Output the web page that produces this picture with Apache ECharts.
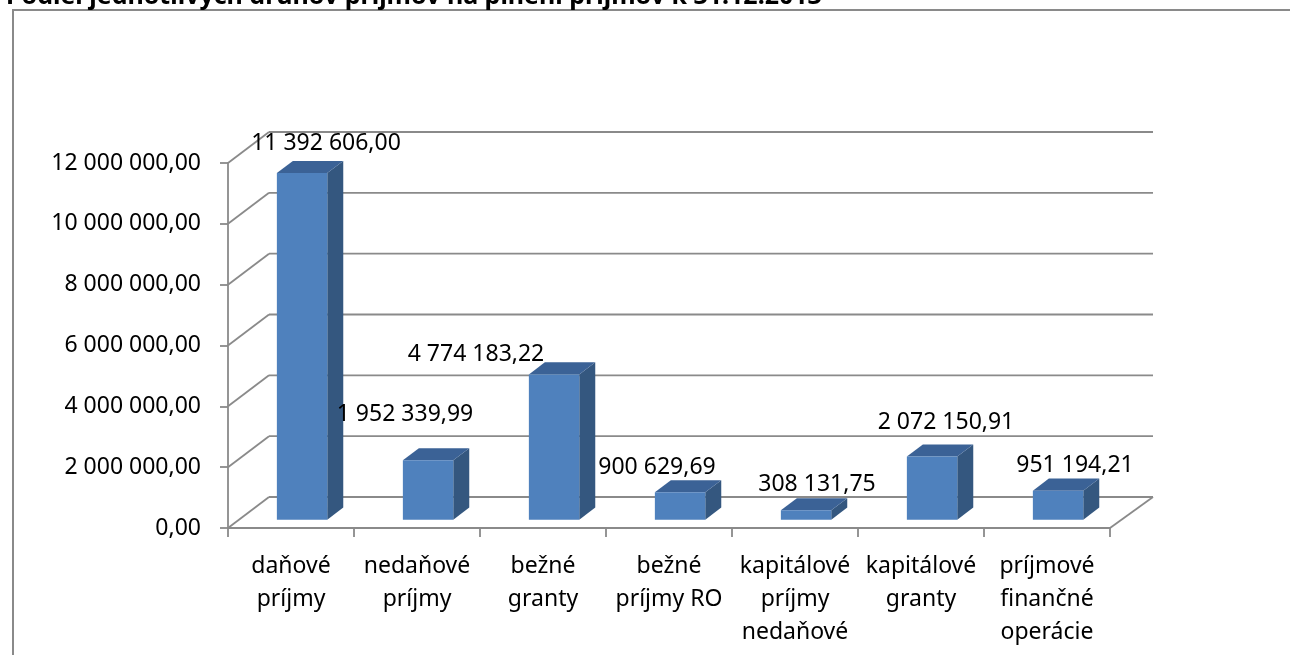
<!DOCTYPE html>
<html>
<head>
<meta charset="utf-8">
<script src="https://cdn.jsdelivr.net/npm/echarts@6/dist/echarts.min.js"></script>
<style>
  html, body { margin: 0; padding: 0; background: #fff; }
  #main { width: 1290px; height: 655px; }
</style>
</head>
<body>
<div id="main"></div>
<script>
// kategórie a hodnoty
var categories = [
  "daňové\npríjmy",
  "nedaňové\npríjmy",
  "bežné\ngranty",
  "bežné\npríjmy RO",
  "kapitálové\npríjmy\nnedaňové",
  "kapitálové\ngranty",
  "príjmové\nfinančné\noperácie"
];
var values = [11392606.0, 1952339.99, 4774183.22, 900629.69, 308131.75, 2072150.91, 951194.21];
var yTicks = [0, 2000000, 4000000, 6000000, 8000000, 10000000, 12000000];
var titleText = "Podiel jednotlivých druhov príjmov na plnení príjmov k 31.12.2013";

// posun popiskov (excel ich v 3D kladie nepravidelne)
var labelShift = [[35, -38], [-12, -54], [-67, -28], [-12, -33], [22, -34], [25, -43], [28, -34]];

var FONT = "Noto Sans";
var DEPTH = [41, -31]; // zadná stena voči prednej rovine
var gridColor = "#8a8a8a";

function fmt(v) {
  var s = v.toFixed(2).split(".");
  var intPart = s[0].replace(/\B(?=(\d{3})+(?!\d))/g, " ");
  return intPart + "," + s[1];
}

var chart = echarts.init(document.getElementById("main"));

function renderWalls(params, api) {
  var v = yTicks[params.dataIndex];
  var cs = params.coordSys;
  var p = api.coord([0, v]);
  var xl = cs.x, xr = cs.x + cs.width;
  var st = { stroke: gridColor, lineWidth: 1.8 };
  var kids = [
    { type: "line", shape: { x1: xl, y1: p[1], x2: xl + DEPTH[0], y2: p[1] + DEPTH[1] }, style: st },
    { type: "line", shape: { x1: xl + DEPTH[0], y1: p[1] + DEPTH[1], x2: xr + DEPTH[0] + 2, y2: p[1] + DEPTH[1] }, style: st }
  ];
  if (v === 0) {
    kids.push({ type: "line", shape: { x1: xr, y1: p[1], x2: xr + DEPTH[0] + 2, y2: p[1] + DEPTH[1] }, style: st });
  }
  return { type: "group", children: kids };
}

function renderBars(params, api) {
  var i = api.value(0);
  var v = api.value(1);
  var top = api.coord([i, v]);
  var base = api.coord([i, 0]);
  var w = api.size([1, 0])[0] * 0.4;
  var f0 = 0.27, d = 0.39;
  var ox = DEPTH[0] * f0, oy = DEPTH[1] * f0;
  var sx = DEPTH[0] * d, sy = DEPTH[1] * d;
  var xl = top[0] + ox - w / 2, xr = top[0] + ox + w / 2;
  var yt = top[1] + oy, yb = base[1] + oy;
  var sh = labelShift[params.dataIndex];
  return {
    type: "group",
    children: [
      { type: "polygon", shape: { points: [[xr, yt], [xr + sx, yt + sy], [xr + sx, yb + sy], [xr, yb]] },
        style: { fill: "#34577f" } },
      { type: "polygon", shape: { points: [[xl, yt], [xl + sx, yt + sy], [xr + sx, yt + sy], [xr, yt]] },
        style: { fill: "#3b6296" } },
      { type: "rect", shape: { x: xl, y: yt, width: w, height: yb - yt },
        style: { fill: "#4f81bd" } },
      { type: "text", x: top[0] + sh[0], y: top[1] + sh[1],
        style: { text: fmt(v), fill: "#000", font: "23px '" + FONT + "'", align: "center", verticalAlign: "middle" } }
    ]
  };
}

var option = {
  animation: false,
  backgroundColor: "#fff",
  title: {
    text: titleText,
    left: 1,
    top: -21,
    textStyle: { fontFamily: FONT, fontWeight: "bold", fontSize: 25, color: "#000" }
  },
  graphic: [
    { type: "rect", z: -10, shape: { x: 13, y: 10, width: 1300, height: 700 },
      style: { fill: "none", stroke: "#8a8a8a", lineWidth: 2 } }
  ],
  grid: { left: 228, right: 180, top: 163, bottom: 127 },
  xAxis: {
    type: "category",
    data: categories,
    axisLine: { lineStyle: { color: gridColor, width: 1.8 } },
    axisTick: { show: true, length: 9, lineStyle: { color: gridColor, width: 1.8 } },
    axisLabel: { margin: 22, fontFamily: FONT, fontSize: 23, color: "#000", lineHeight: 33, interval: 0 }
  },
  yAxis: {
    type: "value",
    min: 0,
    max: 12000000,
    interval: 2000000,
    axisLine: { show: true, lineStyle: { color: gridColor, width: 1.8 } },
    axisTick: { show: true, length: 8, lineStyle: { color: gridColor, width: 1.8 } },
    splitLine: { show: false },
    axisLabel: { margin: 27, fontFamily: FONT, fontSize: 23, color: "#000", formatter: fmt }
  },
  series: [
    {
      type: "custom",
      renderItem: renderWalls,
      data: yTicks.map(function (t) { return [0, t]; }),
      z: 1,
      silent: true
    },
    {
      type: "custom",
      renderItem: renderBars,
      data: values.map(function (v, k) { return [k, v]; }),
      z: 5
    }
  ]
};

chart.setOption(option);
</script>
</body>
</html>
